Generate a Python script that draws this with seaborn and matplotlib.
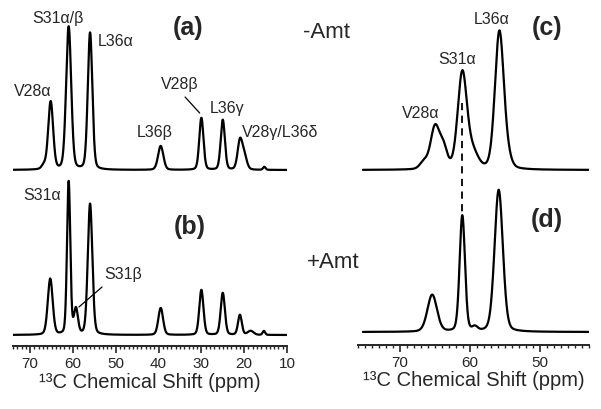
import numpy as np
import pandas as pd
import matplotlib
matplotlib.use("Agg")
import matplotlib.pyplot as plt
from matplotlib.ticker import MultipleLocator
import seaborn as sns

# --- peak lists: position (ppm), height (a.u.), FWHM (ppm) ---
# (a) -Amt, full range
a_pos = [66.8, 65.2, 61.0, 56.0, 39.5, 30.0, 25.0, 21.0, 20.0, 15.3]
a_height = [4, 68, 143, 137, 24, 52, 50, 28, 14, 3]
a_fwhm = [1.2, 1.35, 1.4, 1.25, 1.45, 1.15, 1.15, 1.3, 1.4, 0.7]

# (b) +Amt, full range
b_pos = [65.3, 61.0, 59.3, 56.0, 39.5, 30.0, 25.0, 21.0, 18.5, 15.4]
b_height = [56, 153, 25, 131, 27, 45, 42, 20, 4, 4]
b_fwhm = [1.35, 0.9, 1.1, 1.25, 1.3, 1.15, 1.15, 1.05, 1.6, 0.7]

# (c) -Amt, alpha region
c_pos = [66.6, 65.0, 63.8, 61.1, 59.6, 55.8, 54.6]
c_height = [7, 42, 20, 96, 16, 138, 8]
c_fwhm = [1.3, 1.5, 1.3, 1.55, 1.8, 1.5, 1.3]

# (d) +Amt, alpha region
d_pos = [65.4, 61.1, 59.3, 55.9]
d_height = [37, 116, 4, 142]
d_fwhm = [1.6, 0.9, 0.9, 1.4]

# baselines (same units as heights)
a_base, b_base = 176, 11
c_base, d_base = 175, 13


def spectrum(ppm, pos, height, fwhm, base):
    y = np.full_like(ppm, base, dtype=float)
    for p, h, w in zip(pos, height, fwhm):
        g = np.exp(-4 * np.log(2) * ((ppm - p) / w) ** 2)
        lor = 1 / (1 + 4 * ((ppm - p) / w) ** 2)
        y += h * (0.8 * g + 0.2 * lor)
    return y


sns.set_style("ticks")
plt.rcParams["font.family"] = ["Liberation Sans", "DejaVu Sans"]

fig = plt.figure(figsize=(6.01, 4.09), dpi=100)
W, H = 601, 409
ax1 = fig.add_axes([13 / W, 1 - 346 / H, (287 - 13) / W, 346 / H])
ax2 = fig.add_axes([358 / W, 1 - 345 / H, (589 - 358) / W, 345 / H])

full = np.linspace(74, 10, 3000)
alpha = np.linspace(75.3, 43, 2000)

df1 = pd.concat([
    pd.DataFrame({"ppm": full, "I": spectrum(full, a_pos, a_height, a_fwhm, a_base), "s": "a"}),
    pd.DataFrame({"ppm": full, "I": spectrum(full, b_pos, b_height, b_fwhm, b_base), "s": "b"}),
])
df2 = pd.concat([
    pd.DataFrame({"ppm": alpha, "I": spectrum(alpha, c_pos, c_height, c_fwhm, c_base), "s": "c"}),
    pd.DataFrame({"ppm": alpha, "I": spectrum(alpha, d_pos, d_height, d_fwhm, d_base), "s": "d"}),
])

for ax, df in [(ax1, df1), (ax2, df2)]:
    sns.lineplot(data=df, x="ppm", y="I", units="s", estimator=None,
                 color="black", lw=1.6, sort=False, ax=ax)

ax1.set_xlim(74, 10)
ax1.set_ylim(0, 346)
ax2.set_xlim(76, 43)
ax2.set_ylim(0, 345)

for ax in (ax1, ax2):
    sns.despine(ax=ax, left=True)
    ax.set_yticks([])
    ax.set_ylabel("")
    ax.spines["bottom"].set_linewidth(1.4)
    ax.xaxis.set_major_locator(MultipleLocator(10))
    ax.xaxis.set_minor_locator(MultipleLocator(1))
    ax.tick_params(axis="x", which="major", length=5, width=1.2, labelsize=11, pad=3)
    ax.tick_params(axis="x", which="minor", length=2.5, width=1.0)
    ax.set_xlabel("¹³C Chemical Shift (ppm)", fontsize=14.5, labelpad=1)
    ax.set_facecolor("none")

ax2.set_xticks([70, 60, 50])

# peak labels, panel (a)
lab = dict(fontsize=11.5, ha="center", va="center")
ax1.text(63.5, 346 - 18, "S31α/β", **lab)
ax1.text(54.3, 346 - 42, "L36α", fontsize=11.5, ha="left", va="center")
ax1.text(69.3, 346 - 92, "V28α", **lab)
ax1.text(35.0, 346 - 85, "V28β", **lab)
ax1.plot([33.8, 30.4], [346 - 97, 346 - 113], color="black", lw=0.9)
ax1.text(24.0, 346 - 108, "L36γ", **lab)
ax1.text(40.8, 346 - 133, "L36β", **lab)
ax1.text(20.6, 346 - 132, "V28γ/L36δ", fontsize=11.5, ha="left", va="center", clip_on=False)
ax1.text(33.1, 346 - 28, "(a)", fontsize=18, fontweight="bold", ha="center", va="center")

# panel (b)
ax1.text(67.2, 346 - 195, "S31α", **lab)
ax1.text(48.3, 346 - 275, "S31β", **lab)
ax1.plot([58.6, 53.2], [346 - 307, 346 - 287], color="black", lw=0.9)
ax1.text(32.6, 346 - 227, "(b)", fontsize=18, fontweight="bold", ha="center", va="center")

# panels (c) and (d)
ax2.text(67.1, 345 - 113, "V28α", **lab)
ax2.text(61.9, 345 - 60, "S31α", **lab)
ax2.text(56.9, 345 - 20, "L36α", **lab)
ax2.text(49.0, 345 - 28, "(c)", fontsize=18, fontweight="bold", ha="center", va="center")
ax2.text(49.0, 345 - 220, "(d)", fontsize=18, fontweight="bold", ha="center", va="center")
ax2.plot([61.2, 61.2], [345 - 103, 345 - 213], color="black", lw=1.3, ls=(0, (4, 3)))

fig.text(327 / W, 1 - 32 / H, "-Amt", fontsize=16, ha="center", va="center")
fig.text(333 / W, 1 - 262 / H, "+Amt", fontsize=16, ha="center", va="center")

fig.savefig("out.png", dpi=100)
